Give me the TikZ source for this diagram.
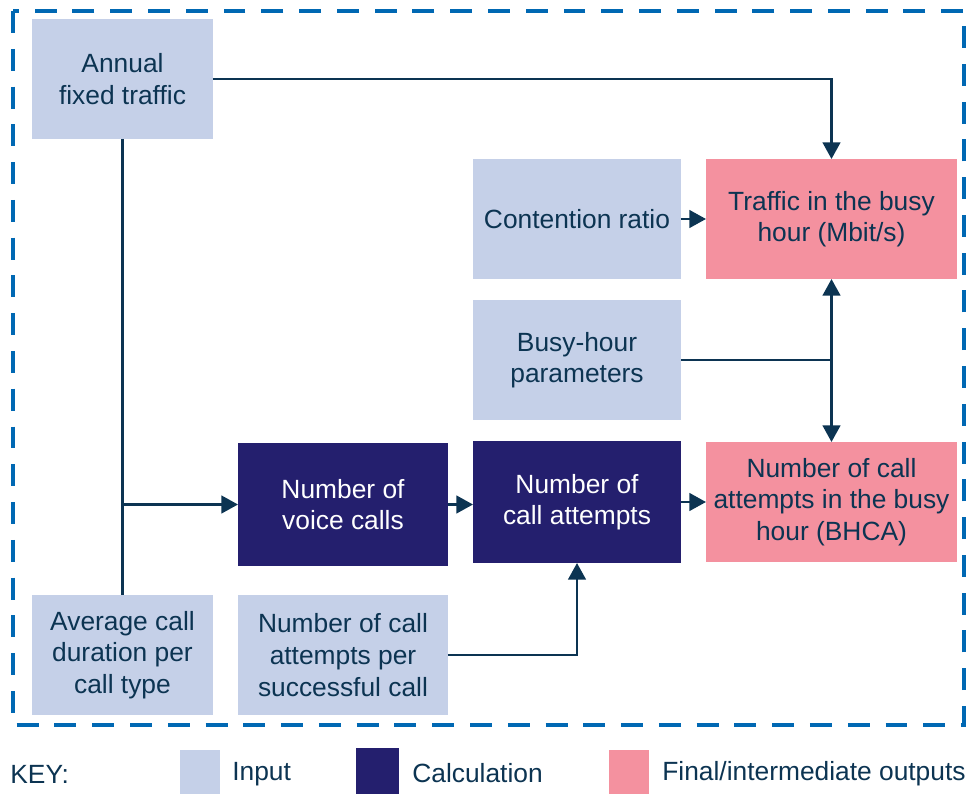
\documentclass[tikz,border=0pt]{standalone}
\usepackage{fontspec}
\setmainfont{Liberation Sans}
\usetikzlibrary{arrows.meta}

\definecolor{inputblue}{RGB}{197,208,232}
\definecolor{calcnavy}{RGB}{36,31,110}
\definecolor{outpink}{RGB}{244,145,159}
\definecolor{textnavy}{RGB}{12,52,82}
\definecolor{frameblue}{RGB}{0,104,179}

\tikzset{
  box/.style={inner sep=0pt, outer sep=0pt, align=center, text=textnavy,
    font=\fontsize{15}{18}\selectfont},
  inbox/.style={box, fill=inputblue},
  calcbox/.style={box, fill=calcnavy, text=white},
  outbox/.style={box, fill=outpink},
  link/.style={draw=textnavy, line width=1.6pt},
  flow/.style={link, -{Triangle[width=10pt,length=9.5pt]}},
  keytext/.style={inner sep=0pt, anchor=west, text=textnavy,
    font=\fontsize{15}{18}\selectfont},
}

\begin{document}
\begin{tikzpicture}[x=0.02cm,y=-0.02cm]
\useasboundingbox (0,0) rectangle (967,794);

% frame
\draw[frameblue, line width=2.3pt, dash pattern=on 12.5pt off 9pt] (13,11) rectangle (964,725);

% inputs
\node[inbox, minimum width=3.62cm, minimum height=2.4cm] (annual) at (122.5,79) {Annual\\fixed traffic};
\node[inbox, minimum width=4.16cm, minimum height=2.4cm] (contention) at (577,219) {Contention ratio};
\node[inbox, minimum width=4.16cm, minimum height=2.4cm] (busy) at (577,360) {Busy-hour\\parameters};
\node[inbox, minimum width=3.62cm, minimum height=2.4cm] (avgdur) at (122.5,655) {Average call\\duration per\\call type};
\node[inbox, minimum width=4.2cm, minimum height=2.4cm] (percall) at (343,655) {Number of call\\attempts per\\successful call};

% calculations
\node[calcbox, minimum width=4.2cm, minimum height=2.46cm] (voice) at (343,504.5) {Number of\\voice calls};
\node[calcbox, minimum width=4.16cm, minimum height=2.44cm] (attempts) at (577,502) {Number of\\call attempts};

% outputs
\node[outbox, minimum width=5.02cm, minimum height=2.4cm] (traffic) at (831.5,219) {Traffic in the busy\\hour (Mbit/s)};
\node[outbox, minimum width=5.02cm, minimum height=2.4cm] (bhca) at (831.5,502) {Number of call\\attempts in the busy\\hour (BHCA)};

% connectors
\draw[flow] (annual.east) -| (traffic.north);
\draw[link] (annual.south) -- (avgdur.north);
\draw[flow] (annual.south |- voice.west) -- (voice.west);
\draw[flow] (voice.east) -- (voice.east -| attempts.west);
\draw[flow] (attempts.east) -- (attempts.east -| bhca.west);
\draw[flow] (contention.east) -- (traffic.west);
\coordinate (bhjoin) at (traffic.south |- busy.east);
\draw[link] (busy.east) -- (bhjoin);
\draw[flow] (bhjoin) -- (traffic.south);
\draw[flow] (bhjoin) -- (bhca.north);
\draw[flow] (percall.east) -| (attempts.south);

% key
\node[keytext] (keylabel) at (10,774) {KEY:};
\node[fill=inputblue, minimum width=0.8cm, minimum height=0.88cm, inner sep=0pt] (keyinput) at (200,772) {};
\node[keytext] (keyinputtext) at (232,774) {Input};
\node[fill=calcnavy, minimum width=0.86cm, minimum height=0.92cm, inner sep=0pt] (keycalc) at (377,771) {};
\node[keytext] (keycalctext) at (412,773) {Calculation};
\node[fill=outpink, minimum width=0.8cm, minimum height=0.88cm, inner sep=0pt] (keyout) at (629,772) {};
\node[keytext] (keyouttext) at (662,774) {Final/intermediate outputs};

\end{tikzpicture}
\end{document}
